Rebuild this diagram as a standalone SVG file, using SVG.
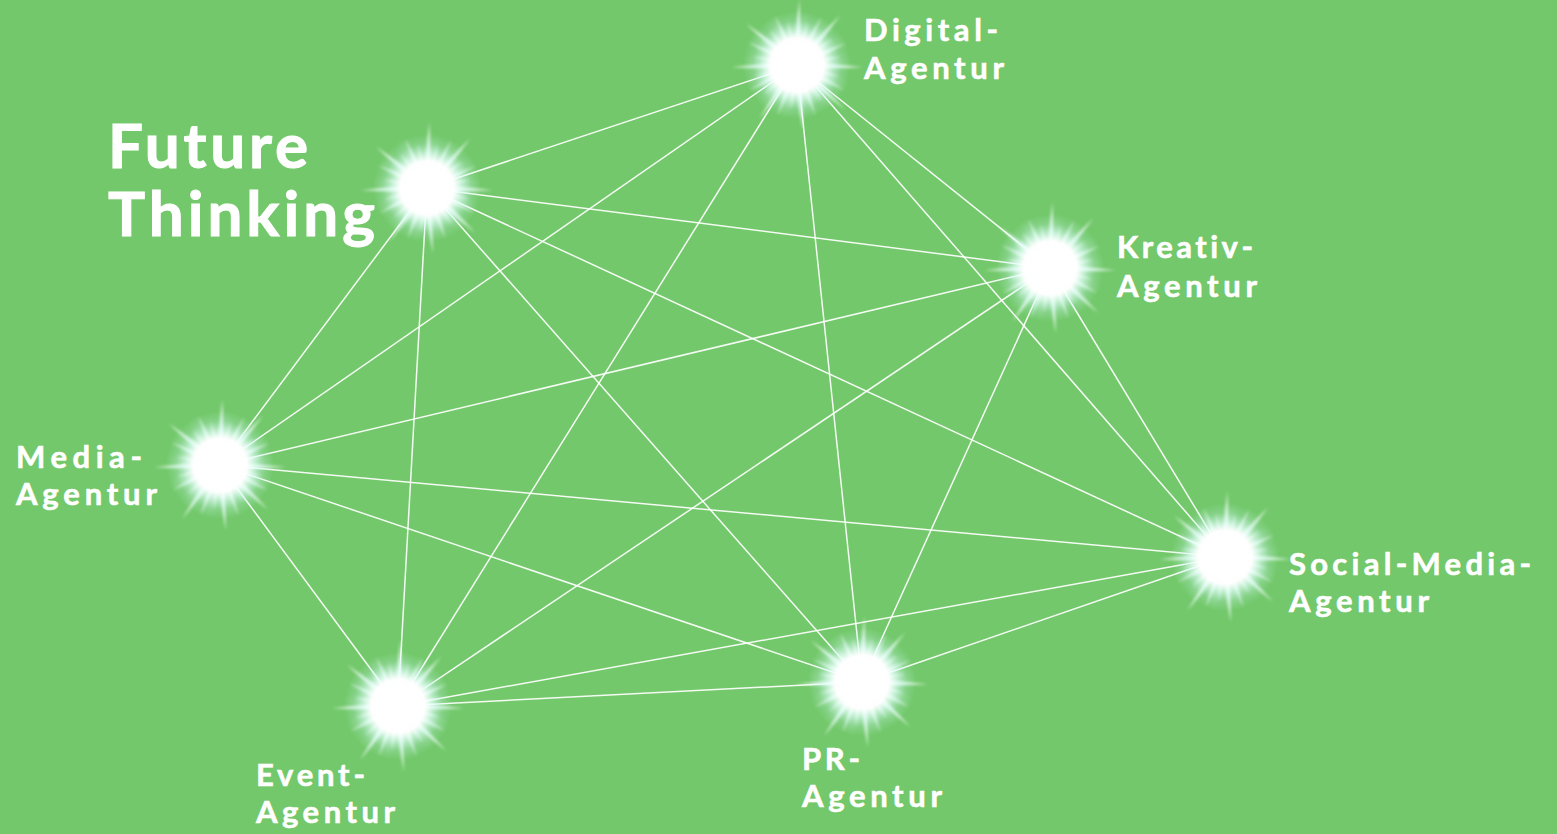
<svg xmlns="http://www.w3.org/2000/svg" xmlns:xlink="http://www.w3.org/1999/xlink" width="1557" height="834" viewBox="0 0 1557 834">
<style>
.lbl{font-family:"Lato","Liberation Sans",sans-serif;font-weight:700;fill:#ffffff;font-size:31px;font-variant-ligatures:none;stroke:#ffffff;stroke-width:0.6;}
.big{font-size:62px;stroke-width:1;}
.edge{stroke:#ffffff;stroke-width:1.5;stroke-opacity:0.92;fill:none;}
</style>
<defs>
<radialGradient id="glow">
<stop offset="0" stop-color="#ffffff" stop-opacity="1"/>
<stop offset="0.5" stop-color="#ffffff" stop-opacity="0.97"/>
<stop offset="0.64" stop-color="#e4fffb" stop-opacity="0.65"/>
<stop offset="0.82" stop-color="#c8f6f0" stop-opacity="0.22"/>
<stop offset="1" stop-color="#c8f6f0" stop-opacity="0"/>
</radialGradient>
<filter id="soft" x="-50%" y="-50%" width="200%" height="200%">
<feGaussianBlur stdDeviation="1.6"/>
</filter>
<filter id="soft2" x="-50%" y="-50%" width="200%" height="200%">
<feGaussianBlur stdDeviation="3"/>
</filter>
<path id="rL" d="M-4.5 0 L0 -66 L4.5 0Z"/>
<path id="rM" d="M-4 0 L0 -54 L4 0Z"/>
<path id="rS" d="M-3.5 0 L0 -45 L3.5 0Z"/>
<g id="star">
<g fill="#e6fffa" fill-opacity="0.55" filter="url(#soft2)">
<use href="#rM" transform="rotate(8)"/>
<use href="#rM" transform="rotate(34)"/>
<use href="#rM" transform="rotate(60)"/>
<use href="#rM" transform="rotate(85)"/>
<use href="#rM" transform="rotate(112)"/>
<use href="#rM" transform="rotate(140)"/>
<use href="#rM" transform="rotate(167)"/>
<use href="#rM" transform="rotate(193)"/>
<use href="#rM" transform="rotate(221)"/>
<use href="#rM" transform="rotate(248)"/>
<use href="#rM" transform="rotate(275)"/>
<use href="#rM" transform="rotate(302)"/>
<use href="#rM" transform="rotate(330)"/>
</g>
<g fill="#f4fffd" fill-opacity="0.85" filter="url(#soft)">
<use href="#rL" transform="rotate(2)"/>
<use href="#rS" transform="rotate(14)"/>
<use href="#rM" transform="rotate(27)"/>
<use href="#rL" transform="rotate(41)"/>
<use href="#rS" transform="rotate(53)"/>
<use href="#rM" transform="rotate(66)"/>
<use href="#rS" transform="rotate(79)"/>
<use href="#rL" transform="rotate(92)"/>
<use href="#rS" transform="rotate(105)"/>
<use href="#rM" transform="rotate(118)"/>
<use href="#rL" transform="rotate(133)"/>
<use href="#rS" transform="rotate(146)"/>
<use href="#rM" transform="rotate(160)"/>
<use href="#rL" transform="rotate(175)"/>
<use href="#rS" transform="rotate(188)"/>
<use href="#rM" transform="rotate(201)"/>
<use href="#rL" transform="rotate(215)"/>
<use href="#rS" transform="rotate(228)"/>
<use href="#rM" transform="rotate(242)"/>
<use href="#rS" transform="rotate(255)"/>
<use href="#rL" transform="rotate(268)"/>
<use href="#rS" transform="rotate(281)"/>
<use href="#rM" transform="rotate(295)"/>
<use href="#rL" transform="rotate(309)"/>
<use href="#rS" transform="rotate(322)"/>
<use href="#rM" transform="rotate(336)"/>
<use href="#rS" transform="rotate(348)"/>
</g>
<circle r="54" fill="url(#glow)"/>
</g>
</defs>
<rect width="1557" height="834" fill="#72c86a"/>
<g id="connectors">
<line class="edge" x1="797" y1="65" x2="427" y2="188"/>
<line class="edge" x1="797" y1="65" x2="1050" y2="268"/>
<line class="edge" x1="797" y1="65" x2="220" y2="465"/>
<line class="edge" x1="797" y1="65" x2="1225" y2="557"/>
<line class="edge" x1="797" y1="65" x2="862" y2="682"/>
<line class="edge" x1="797" y1="65" x2="398" y2="706"/>
<line class="edge" x1="427" y1="188" x2="1050" y2="268"/>
<line class="edge" x1="427" y1="188" x2="220" y2="465"/>
<line class="edge" x1="427" y1="188" x2="1225" y2="557"/>
<line class="edge" x1="427" y1="188" x2="862" y2="682"/>
<line class="edge" x1="427" y1="188" x2="398" y2="706"/>
<line class="edge" x1="1050" y1="268" x2="220" y2="465"/>
<line class="edge" x1="1050" y1="268" x2="1225" y2="557"/>
<line class="edge" x1="1050" y1="268" x2="862" y2="682"/>
<line class="edge" x1="1050" y1="268" x2="398" y2="706"/>
<line class="edge" x1="220" y1="465" x2="1225" y2="557"/>
<line class="edge" x1="220" y1="465" x2="862" y2="682"/>
<line class="edge" x1="220" y1="465" x2="398" y2="706"/>
<line class="edge" x1="1225" y1="557" x2="862" y2="682"/>
<line class="edge" x1="1225" y1="557" x2="398" y2="706"/>
<line class="edge" x1="862" y1="682" x2="398" y2="706"/>
</g>
<g id="node-digital">
<use href="#star" x="797" y="65"/>
<text class="lbl" x="864" y="41" textLength="134" lengthAdjust="spacing">Digital-</text>
<text class="lbl" x="864" y="79" textLength="140" lengthAdjust="spacing">Agentur</text>
</g>
<g id="node-future">
<use href="#star" x="427" y="188"/>
<text class="lbl big" x="108" y="168" textLength="200" lengthAdjust="spacing">Future</text>
<text class="lbl big" x="108" y="236" textLength="267" lengthAdjust="spacing">Thinking</text>
</g>
<g id="node-kreativ">
<use href="#star" x="1050" y="268"/>
<text class="lbl" x="1117" y="258" textLength="136" lengthAdjust="spacing">Kreativ-</text>
<text class="lbl" x="1117" y="297" textLength="140" lengthAdjust="spacing">Agentur</text>
</g>
<g id="node-media">
<use href="#star" x="220" y="465"/>
<text class="lbl" x="16" y="468" textLength="126" lengthAdjust="spacing">Media-</text>
<text class="lbl" x="16" y="505" textLength="141" lengthAdjust="spacing">Agentur</text>
</g>
<g id="node-social">
<use href="#star" x="1225" y="557"/>
<text class="lbl" x="1289" y="575" textLength="242" lengthAdjust="spacing">Social-Media-</text>
<text class="lbl" x="1289" y="612" textLength="140" lengthAdjust="spacing">Agentur</text>
</g>
<g id="node-pr">
<use href="#star" x="862" y="682"/>
<text class="lbl" x="802" y="770" textLength="58" lengthAdjust="spacing">PR-</text>
<text class="lbl" x="802" y="807" textLength="140" lengthAdjust="spacing">Agentur</text>
</g>
<g id="node-event">
<use href="#star" x="398" y="706"/>
<text class="lbl" x="256" y="786" textLength="109" lengthAdjust="spacing">Event-</text>
<text class="lbl" x="256" y="823" textLength="139" lengthAdjust="spacing">Agentur</text>
</g>
</svg>
